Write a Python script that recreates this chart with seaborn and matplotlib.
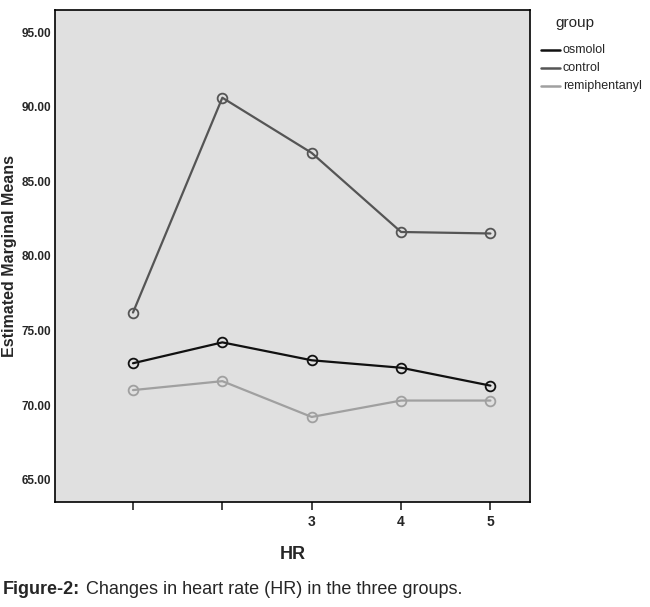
import matplotlib
matplotlib.use("Agg")
import matplotlib.pyplot as plt
import seaborn as sns
import pandas as pd

hr = [1, 2, 3, 4, 5]
osmolol = [72.8, 74.2, 73.0, 72.5, 71.3]
control = [76.2, 90.6, 86.9, 81.6, 81.5]
remiphentanyl = [71.0, 71.6, 69.2, 70.3, 70.3]
groups = ["osmolol", "control", "remiphentanyl"]
colors = ["#111111", "#555555", "#a0a0a0"]
x_labels = ["", "", "3", "4", "5"]
y_ticks = [65, 70, 75, 80, 85, 90, 95]

df = pd.DataFrame({
    "HR": hr * 3,
    "mean": osmolol + control + remiphentanyl,
    "group": [g for g in groups for _ in hr],
})

sns.set_style("white")
plt.rcParams["font.family"] = ["Liberation Sans", "DejaVu Sans"]

fig = plt.figure(figsize=(6.5, 6.07), dpi=100)
ax = fig.add_axes([0.085, 0.173, 0.73, 0.811])
ax.set_facecolor("#e0e0e0")

sns.lineplot(data=df, x="HR", y="mean", hue="group", hue_order=groups,
             palette=colors, marker="o", markersize=7, markerfacecolor="none",
             markeredgewidth=1.3, linewidth=1.6, ax=ax, legend=False)
# hollow markers in line colour
for line, c in zip(ax.lines, colors):
    line.set_markeredgecolor(c)

ax.set_xlim(0.13, 5.44)
ax.set_ylim(63.5, 96.5)
ax.set_xticks(hr)
ax.set_xticklabels(x_labels, fontsize=10, fontweight="bold")
ax.set_yticks(y_ticks)
ax.set_yticklabels([f"{v:.2f}" for v in y_ticks], fontsize=8.5, fontweight="bold")
ax.tick_params(axis="x", direction="out", length=6, width=1.2, bottom=True)
ax.tick_params(axis="y", length=0, pad=3)
for s in ax.spines.values():
    s.set_linewidth(1.2)
    s.set_color("black")
ax.set_xlabel("HR", fontsize=13, fontweight="bold", labelpad=12)
ax.set_ylabel("Estimated Marginal Means", fontsize=11.5, fontweight="bold", labelpad=3)

# legend
fig.text(0.885, 0.955, "group", fontsize=11, ha="center")
for i, (g, c) in enumerate(zip(groups, colors)):
    y = 0.918 - i * 0.03
    fig.add_artist(plt.Line2D([0.832, 0.862], [y, y], color=c, lw=1.8))
    fig.text(0.866, y, g, fontsize=9, va="center")

t1 = fig.text(0.005, 0.022, "Figure-2:", fontsize=13, fontweight="bold")
fig.canvas.draw()
bb = t1.get_window_extent().transformed(fig.transFigure.inverted())
fig.text(bb.x1 + 0.008, 0.022, "Changes in heart rate (HR) in the three groups.", fontsize=13)

fig.savefig("out.png", dpi=100)
